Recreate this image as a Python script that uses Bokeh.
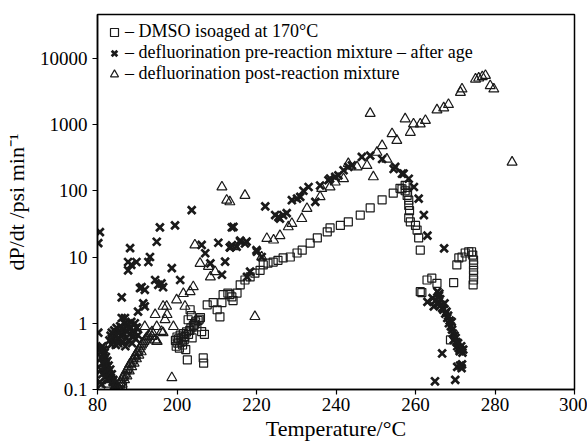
from bokeh.plotting import figure
from bokeh.models import Legend, LegendItem, FixedTicker, NumeralTickFormatter, Range1d
from bokeh.embed import file_html
from bokeh.resources import INLINE

# ---------------- data ----------------
sq_T = [184.6, 185.2, 185.8, 186.3,
        199.6, 199.8, 200.0, 200.2, 200.4, 200.6, 200.8, 201.0, 201.2, 201.4, 201.6, 201.8,
        202.0, 202.2, 202.4, 202.6, 202.9, 203.2, 203.5, 203.8, 204.1, 204.4, 204.7, 205.0,
        205.3, 205.6, 205.9, 206.2, 206.6, 206.7, 206.9,
        203.3, 202.8, 203.6, 207.6, 209.1, 210.1, 210.8, 211.3, 211.6, 212.8, 213.3, 213.8,
        214.1, 215.1,
        215.9, 217.1, 218.4, 219.6, 220.9, 221.7, 222.9, 224.2, 225.4, 226.7, 228.5, 230.2,
        231.5, 233.5, 235.3, 237.8, 238.5, 241.1, 243.1, 246.1, 248.6, 251.6, 254.4, 256.1,
        257.4, 256.6, 257.9, 257.4, 257.9, 258.3, 258.3, 258.0, 258.5, 258.3, 258.7, 260.0,
        260.4, 260.8, 261.2, 262.9, 264.1, 265.4, 261.2, 261.6, 268.8, 269.6, 270.4, 270.9,
        271.7, 272.5, 273.4, 274.1, 274.4, 274.6, 274.6, 274.6, 274.6, 274.6, 274.5]
sq_v = [0.11, 0.10, 0.12, 0.11,
        0.55, 0.45, 0.62, 0.50, 0.58, 0.42, 0.66, 0.52, 0.60, 0.47, 0.70, 0.56,
        0.63, 0.40, 0.74, 0.28, 0.68, 0.78, 0.85, 0.60, 0.92, 0.97, 1.05, 0.88,
        1.10, 1.15, 1.22, 0.75, 0.30, 0.25, 0.68,
        1.6, 1.13, 1.3, 1.9, 2.05, 1.6, 1.25, 2.05, 2.7, 2.85, 2.7, 2.5,
        2.2, 2.85,
        3.8, 4.5, 5.0, 5.7, 6.3, 7.6, 8.1, 8.4, 8.9, 9.7, 10.0, 11.5,
        12.7, 16.2, 19.4, 24.0, 27.5, 30.0, 34.0, 43.0, 55.0, 73.0, 92.0, 109.0,
        121.0, 107.0, 120.0, 100.0, 85.0, 72.0, 60.0, 95.0, 50.0, 39.0, 34.0, 30.0,
        25.5, 19.5, 12.7, 4.5, 4.8, 4.0, 3.0, 2.9, 0.56, 4.1, 7.6, 9.7,
        10.0, 11.5, 12.0, 12.0, 10.7, 9.0, 7.6, 6.3, 5.35, 4.5, 3.8]

cr_T = [180.2, 180.6, 180.2, 180.6, 181.0,
        180.9, 181.1, 181.2, 181.4, 181.5, 181.7, 181.8, 182.0, 182.1, 182.3, 182.5, 182.6,
        182.8, 183.0, 183.2, 183.4, 183.6, 183.8, 184.0, 184.2, 184.4, 181.0, 181.3, 181.6,
        181.9, 182.2, 182.6, 180.9, 181.2,
        183.0, 183.3, 183.6, 183.9, 184.2, 184.5, 184.8, 185.1, 185.4, 185.7, 186.0, 186.3,
        186.6, 186.9, 187.2, 187.5, 187.8, 188.1, 188.4, 188.7, 189.0, 189.3, 189.6, 189.9,
        190.2, 183.5, 184.0, 184.6, 185.2, 186.4, 187.0, 186.1, 187.3, 188.5,
        186.1, 186.9, 189.4, 189.8, 187.7, 191.5, 191.9, 190.2, 190.7, 191.9, 191.1,
        194.5, 196.1, 196.5, 195.3, 187.7, 187.7, 189.8, 188.5, 193.2, 192.8, 198.7, 200.8,
        188.2, 194.9, 195.7, 199.5, 203.7,
        206.2, 207.1, 208.4, 210.4, 212.1, 213.4, 211.3, 213.8, 213.3, 215.9, 217.5, 220.0,
        214.2, 215.9, 217.1, 215.0, 213.8, 220.1, 221.3, 218.4, 217.6, 222.2, 224.7, 225.9,
        226.7, 227.6, 225.5, 228.9, 230.2, 231.0, 231.8, 233.1, 234.8, 236.0, 238.1, 238.5,
        239.8, 240.6, 241.9, 243.1, 244.0, 246.5, 248.6, 251.6, 254.5, 257.0,
        254.9, 256.6, 258.3, 259.6, 260.8, 262.1, 263.0, 267.2, 265.5, 263.0, 265.8, 266.7,
        267.5, 268.4, 269.2, 269.6, 270.5, 271.3, 266.7, 270.5, 271.7, 264.9, 270.0,
        265.9, 266.2, 266.4, 266.0, 267.0, 267.3, 267.8, 268.0, 268.2, 268.6, 268.9, 269.1,
        269.4, 269.8, 270.1, 270.3, 270.7, 270.9, 271.1, 271.5, 271.8, 272.0, 271.2, 271.6,
        264.3, 265.0, 264.6]
cr_v = [16.2, 23.8, 0.72, 0.13, 0.12,
        0.42, 0.38, 0.45, 0.33, 0.40, 0.29, 0.36, 0.26, 0.31, 0.22, 0.27, 0.19,
        0.23, 0.17, 0.20, 0.15, 0.17, 0.13, 0.14, 0.115, 0.105, 0.30, 0.25, 0.21,
        0.18, 0.16, 0.14, 0.20, 0.17,
        0.55, 0.65, 0.72, 0.60, 0.78, 0.68, 0.85, 0.58, 0.74, 0.90, 0.63, 0.80,
        0.70, 1.00, 0.60, 0.76, 0.55, 0.68, 0.85, 0.50, 0.62, 0.72, 0.58, 0.86,
        0.66, 0.48, 0.52, 0.47, 0.50, 0.52, 0.45, 1.2, 0.95, 1.05,
        2.46, 1.2, 1.0, 0.86, 0.84, 2.0, 1.8, 1.5, 3.4, 3.2, 3.5,
        4.5, 4.0, 3.5, 3.8, 8.4, 6.3, 8.4, 7.6, 10.0, 8.4, 6.8, 4.5,
        13.6, 17.0, 28.0, 30.0, 51.0,
        15.2, 11.4, 8.0, 16.4, 8.5, 14.0, 5.4, 28.0, 14.0, 17.7, 17.1, 12.7,
        28.5, 17.0, 16.0, 14.3, 15.0, 12.0, 10.0, 6.0, 5.0, 58.0, 43.0, 38.0,
        43.0, 46.0, 40.0, 72.0, 76.0, 81.0, 100.0, 114.0, 68.0, 120.0, 144.0, 153.0,
        162.0, 171.0, 204.0, 229.0, 242.0, 324.0, 340.0, 302.0, 213.0, 181.0,
        229.0, 181.0, 152.0, 114.0, 76.0, 43.0, 21.0, 13.5, 3.0, 2.1, 2.0, 1.7,
        1.4, 1.0, 0.8, 0.56, 0.45, 0.4, 0.35, 0.22, 0.24, 0.133, 0.14,
        2.6, 2.3, 1.9, 2.8, 1.6, 2.0, 1.5, 1.2, 1.3, 1.1, 0.9, 1.05,
        0.7, 0.65, 0.6, 0.52, 0.5, 0.42, 0.38, 0.45, 0.36, 0.40, 0.23, 0.21,
        2.4, 2.2, 1.8]

tr_T = [184.8, 185.1, 185.4, 185.7, 186.0, 186.3, 186.6, 186.9, 187.2, 187.5, 187.8, 188.1,
        188.4, 188.7, 189.0, 189.3, 189.6, 189.9, 190.2, 190.5, 190.8, 191.1, 191.4, 191.7,
        192.0, 192.3, 192.6, 192.9, 193.3, 193.7, 185.6, 186.2, 186.8, 187.4, 188.0, 188.6,
        189.2, 189.8, 190.4, 191.0,
        182.7, 182.3, 198.7, 194.5, 194.9, 196.1, 191.9, 194.9, 199.1, 194.5, 197.0, 197.4,
        202.0, 199.9, 203.3, 201.6, 204.1, 208.4, 209.6, 207.9, 205.8, 204.5, 196.5, 197.5,
        195.0, 196.5, 193.7,
        211.3, 212.5, 217.1, 219.6, 213.3, 214.6, 221.3, 222.6, 224.3, 225.9, 228.0, 228.9,
        231.4, 232.7, 236.0, 236.4, 238.5, 239.8, 241.9, 243.1, 245.3, 247.8, 249.4, 250.3,
        252.8, 251.6, 254.1, 255.3, 248.6, 257.4, 258.7, 259.5, 261.2, 262.5, 265.4, 267.1,
        268.3, 271.3, 271.7, 275.1, 275.9, 276.8, 277.6, 278.8, 279.7, 284.3]
tr_v = [0.10, 0.11, 0.12, 0.125, 0.14, 0.15, 0.16, 0.17, 0.19, 0.20, 0.22, 0.24,
        0.25, 0.27, 0.29, 0.31, 0.33, 0.36, 0.38, 0.41, 0.44, 0.47, 0.50, 0.53,
        0.56, 0.60, 0.63, 0.66, 0.70, 0.74, 0.10, 0.12, 0.14, 0.16, 0.19, 0.22,
        0.25, 0.29, 0.33, 0.37,
        0.14, 0.12, 0.15, 0.56, 0.53, 0.75, 0.89, 0.89, 0.89, 1.35, 1.13, 1.8,
        1.8, 2.25, 3.0, 2.8, 3.55, 5.0, 6.0, 7.2, 8.0, 15.2, 1.8, 1.35,
        0.53, 0.72, 0.63,
        114.0, 72.0, 85.0, 1.26, 68.0, 14.3, 10.0, 19.0, 18.0, 21.0, 28.5, 32.0,
        38.0, 54.0, 81.0, 108.0, 114.0, 135.0, 152.0, 257.0, 229.0, 240.0, 162.0, 380.0,
        300.0, 480.0, 725.0, 575.0, 1470.0, 1216.0, 760.0, 1020.0, 1020.0, 1150.0, 1660.0, 1780.0,
        2000.0, 3050.0, 3430.0, 4840.0, 5020.0, 5250.0, 5500.0, 3850.0, 3430.0, 270.0]

series_labels = ["\u2013 DMSO isoaged at 170\u00b0C",
                 "\u2013 defluorination pre-reaction mixture \u2013 after age",
                 "\u2013 defluorination post-reaction mixture"]

x_ticks = [180, 200, 220, 240, 260, 280, 300]
x_tick_labels = ["80", "200", "220", "240", "260", "280", "300"]
y_ticks = [0.1, 1, 10, 100, 1000, 10000]

# ---------------- figure ----------------
FONT = "Liberation Serif"
p = figure(width=587, height=443, y_axis_type="log",
           x_range=Range1d(180, 300), y_range=Range1d(0.1, 45800),
           output_backend="svg", toolbar_location=None,
           min_border_left=97, min_border_right=13, min_border_top=14, min_border_bottom=53)
p.background_fill_color = "white"
p.border_fill_color = "white"
p.grid.visible = False
p.outline_line_color = "black"
p.outline_line_width = 1.5

ink = "#1a1a1a"
r_sq = p.scatter(sq_T, sq_v, marker="square", size=8, fill_alpha=0,
                 line_color=ink, line_width=1.2)
r_cr = p.scatter(cr_T, cr_v, marker="x", size=11, line_color=ink, line_width=2.7)
r_tr = p.scatter(tr_T, tr_v, marker="triangle", size=10, fill_alpha=0,
                 line_color=ink, line_width=1.2)

# axes
p.xaxis.ticker = FixedTicker(ticks=x_ticks)
p.xaxis.major_label_overrides = {t: l for t, l in zip(x_ticks, x_tick_labels)}
p.yaxis.ticker = FixedTicker(ticks=y_ticks, minor_ticks=[])
p.yaxis.formatter = NumeralTickFormatter(format="0.[0]")
for ax in (p.xaxis[0], p.yaxis[0]):
    ax.axis_line_color = "black"
    ax.axis_line_width = 1.5
    ax.major_tick_line_color = "black"
    ax.major_tick_line_width = 1.2
    ax.major_tick_in = 0
    ax.major_tick_out = 5
    ax.minor_tick_line_color = None
    ax.major_label_text_font = FONT
    ax.major_label_text_font_size = "19px"
    ax.major_label_text_color = "black"
    ax.axis_label_text_font = FONT
    ax.axis_label_text_font_size = "22px"
    ax.axis_label_text_font_style = "normal"
    ax.axis_label_text_color = "black"
p.xaxis.axis_label = "Temperature/\u00b0C"
p.yaxis.axis_label = "dP/dt /psi min\u207b\u00b9"
p.xaxis.major_label_standoff = 3
p.yaxis.major_label_standoff = 5
p.xaxis.axis_label_standoff = 2
p.yaxis.axis_label_standoff = 8

legend = Legend(items=[LegendItem(label=series_labels[0], renderers=[r_sq]),
                       LegendItem(label=series_labels[1], renderers=[r_cr]),
                       LegendItem(label=series_labels[2], renderers=[r_tr])],
                location="top_left", margin=7, padding=4, spacing=-1,
                glyph_width=20, glyph_height=20, label_height=20, label_standoff=1,
                label_text_font=FONT, label_text_font_size="18px",
                label_text_color="black",
                border_line_color=None, background_fill_alpha=0)
p.add_layout(legend)

open("out.html", "w").write(file_html(p, INLINE))
